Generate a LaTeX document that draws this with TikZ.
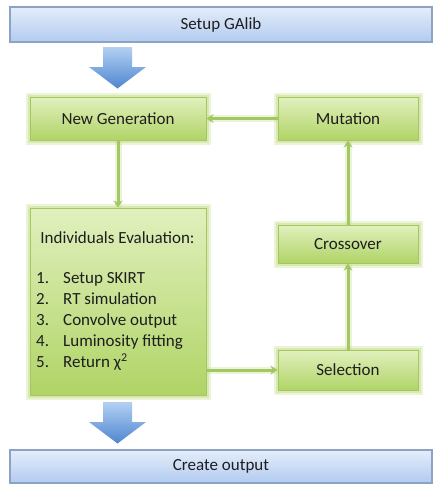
\documentclass[tikz,border=0pt]{standalone}
\usepackage{fontspec}
\setmainfont{Carlito}
\usetikzlibrary{arrows.meta,calc}
\definecolor{gtop}{HTML}{E1F0BE}
\definecolor{gbot}{HTML}{B0D466}
\definecolor{gborder}{HTML}{A5C663}
\definecolor{gglow}{HTML}{C8E08E}
\definecolor{gline}{HTML}{A4C765}
\definecolor{btop}{HTML}{E4EDFA}
\definecolor{bbot}{HTML}{B2CBF0}
\definecolor{bborder}{HTML}{8CA3C4}
\definecolor{atop}{HTML}{B3D0F2}
\definecolor{abot}{HTML}{4E86D0}
\definecolor{txt}{HTML}{1E1E1E}
\tikzset{
  x=1pt, y=-1pt,
  every node/.style={text=txt, font=\fontsize{17}{20}\selectfont},
  greenbox/.style={rectangle, draw=gborder, line width=1pt, top color=gtop, bottom color=gbot, inner sep=0pt,
    preaction={draw=gglow, line width=9pt, opacity=0.35},
    preaction={draw=gglow, line width=5pt, opacity=0.5}},
  bluebox/.style={rectangle, draw=bborder, line width=1.2pt, top color=btop, bottom color=bbot, inner sep=0pt},
  garrow/.style={draw=gline, line width=3pt, -{Stealth[length=7pt,width=9pt]},
    preaction={draw=gglow, line width=7pt, opacity=0.35, -}},
  blockarrow/.style={top color=atop, bottom color=abot, draw=none},
  plain/.style={inner sep=0pt, anchor=base west}
}
\begin{document}
\begin{tikzpicture}
\useasboundingbox (0,0) rectangle (434,485);
\fill[white] (0,0) rectangle (434,485);
\node[bluebox, minimum width=422pt, minimum height=35pt] (setup) at (221,24.5) {Setup GAlib};
\node[bluebox, minimum width=422pt, minimum height=33pt] (out) at (221,466.5) {Create output};
\node[greenbox, minimum width=176pt, minimum height=43pt] (newgen) at (118,118.5) {New Generation};
\node[greenbox, minimum width=140pt, minimum height=43pt] (mut) at (348,118.5) {Mutation};
\node[greenbox, minimum width=176pt, minimum height=187pt] (eval) at (118,301.5) {};
\node[greenbox, minimum width=140pt, minimum height=38pt] (cross) at (348,244) {Crossover};
\node[greenbox, minimum width=140pt, minimum height=40pt] (sel) at (348,370) {Selection};
% text of evaluation box
\node[inner sep=0pt] (evtitle) at (117.5,238) {Individuals Evaluation:};
\node[plain] (n1) at (36,283.5) {1.};
\node[plain] (t1) at (63,283.5) {Setup SKIRT};
\node[plain] (n2) at (36,304.5) {2.};
\node[plain] (t2) at (63,304.5) {RT simulation};
\node[plain] (n3) at (36,325.5) {3.};
\node[plain] (t3) at (63,325.5) {Convolve output};
\node[plain] (n4) at (36,346.5) {4.};
\node[plain] (t4) at (63,346.5) {Luminosity fitting};
\node[plain] (n5) at (36,367.5) {5.};
\node[plain] (t5) at (63,367.5) {Return χ\textsuperscript{2}};
% green connectors
\draw[garrow] (mut.west) -- (newgen.east);
\draw[garrow] (newgen.south) -- (eval.north);
\draw[garrow] (eval.east |- sel.west) -- (sel.west);
\draw[garrow] (sel.north) -- (cross.south);
\draw[garrow] (cross.north) -- (mut.south);
% block arrows
\path[blockarrow] (103,47) -- (132,47) -- (132,67) -- (146,67) -- (117.5,88.5) -- (89,67) -- (103,67) -- cycle;
\path[blockarrow] (103,402) -- (132,402) -- (132,422) -- (146,422) -- (117.5,443.5) -- (89,422) -- (103,422) -- cycle;
\end{tikzpicture}
\end{document}
